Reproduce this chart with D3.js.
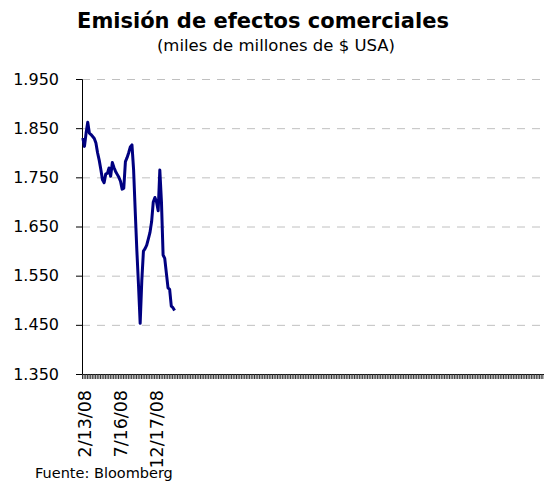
<!DOCTYPE html>
<html>
<head>
<meta charset="utf-8">
<script src="https://cdn.jsdelivr.net/npm/d3@7/dist/d3.min.js"></script>
<style>
  body { margin: 0; background: #fff; }
  text { font-family: "DejaVu Sans", Verdana, sans-serif; }
</style>
</head>
<body>
<div id="chart"></div>
<script>
// weekly values (miles de millones de $ USA), starting 2/13/08
var values = [1830, 1813, 1840, 1862, 1840, 1837, 1833, 1829, 1820, 1800,
              1785, 1766, 1745, 1739, 1757, 1758, 1769, 1752, 1780, 1770,
              1762, 1756, 1750, 1742, 1726, 1728, 1782, 1790, 1800, 1812,
              1816, 1765, 1680, 1600, 1530, 1453, 1540, 1600, 1605, 1612,
              1625, 1638, 1660, 1700, 1709, 1700, 1682, 1765, 1700, 1592,
              1585, 1555, 1525, 1522, 1488, 1485, 1479];
var tickLabels = ["2/13/08", "7/16/08", "12/17/08"];
var labelEvery = 22;
var nCategories = 282;
var yTicks = [1350, 1450, 1550, 1650, 1750, 1850, 1950];

var svg = d3.select("#chart").append("svg").attr("width", 545).attr("height", 487),
    plotLeft = 82, plotRight = 544, plotTop = 79, plotBottom = 374;

var loc = d3.formatLocale({decimal: ",", thousands: ".", grouping: [3], currency: ["", "$"]});
var fmt = loc.format(",");

var x = d3.scaleBand().domain(d3.range(nCategories)).range([plotLeft, plotRight]).padding(0);
var y = d3.scaleLinear().domain([1350, 1950]).range([plotBottom, plotTop]);

// gridlines
svg.append("g").selectAll("line")
  .data(yTicks.slice(1))
  .enter().append("line")
  .attr("x1", plotLeft).attr("x2", plotRight)
  .attr("y1", function(d) { return y(d) + 0.5; })
  .attr("y2", function(d) { return y(d) + 0.5; })
  .attr("stroke", "#c0c0c0")
  .attr("stroke-dasharray", "8,7");

// y axis
var gy = svg.append("g")
  .attr("transform", "translate(" + plotLeft + ",0)")
  .call(d3.axisLeft(y).tickValues(yTicks).tickSize(6).tickPadding(17).tickFormat(fmt));
gy.select(".domain").attr("stroke", "#000");
gy.selectAll("text").attr("font-size", "16px").attr("fill", "#000");

// x axis ticks (one per week, on the boundaries)
var gx = svg.append("g")
  .attr("transform", "translate(0," + plotBottom + ")")
  .call(d3.axisBottom(x).tickSizeOuter(0).tickSize(5).tickFormat(""));
gx.selectAll(".tick").attr("transform", function(d) { return "translate(" + (x(d) + 0.5) + ",0)"; });
gx.selectAll(".tick line").attr("stroke", "#333");
gx.select(".domain").attr("stroke", "#000").attr("d", "M" + (plotLeft - 6) + ",0.5H" + plotRight);

// x labels, rotated
svg.append("g").selectAll("text")
  .data(tickLabels)
  .enter().append("text")
  .attr("transform", function(d, i) {
    return "translate(" + (x(i * labelEvery) + x.bandwidth() / 2 + 2) + ",390) rotate(-90)";
  })
  .attr("text-anchor", "end")
  .attr("dy", "0.35em")
  .attr("font-size", "17.5px")
  .attr("fill", "#000")
  .text(function(d) { return d; });

// series line
var line = d3.line()
  .x(function(d, i) { return x(i) + x.bandwidth() / 2; })
  .y(function(d) { return y(d); });

svg.append("path")
  .datum(values)
  .attr("d", line)
  .attr("fill", "none")
  .attr("stroke", "#000080")
  .attr("stroke-width", 3)
  .attr("stroke-linejoin", "round");

// titles
svg.append("text").attr("x", 263).attr("y", 28)
  .attr("text-anchor", "middle").attr("font-size", "21px").attr("font-weight", "bold")
  .text("Emisión de efectos comerciales");
svg.append("text").attr("x", 276).attr("y", 51)
  .attr("text-anchor", "middle").attr("font-size", "16.5px")
  .text("(miles de millones de $ USA)");
svg.append("text").attr("x", 35).attr("y", 478)
  .attr("font-size", "14.5px")
  .text("Fuente: Bloomberg");
</script>
</body>
</html>
